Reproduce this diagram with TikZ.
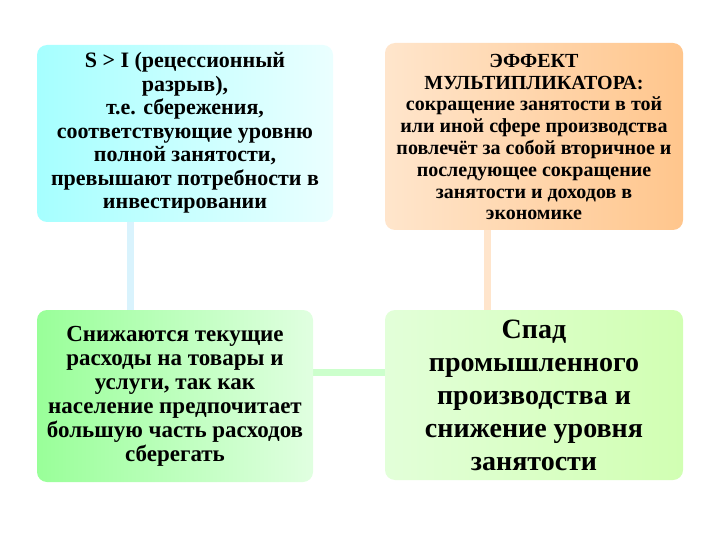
\documentclass[tikz,border=0pt]{standalone}
\usepackage{fontspec}
\setmainfont{Liberation Serif}
\newfontfamily\rs{Liberation Serif}
\begin{document}
\begin{tikzpicture}[x=1pt,y=-1pt,
 box/.style={rounded corners=10pt,align=center},
 bar/.style={line width=7pt}]
\useasboundingbox (0,0) rectangle (720,540);
\fill[white] (0,0) rectangle (720,540);
% connectors
\draw[bar,color=cyan!15] (130,222) -- (130,310);
\draw[bar,color=orange!20] (487,230) -- (487,310);
\draw[bar,color=green!20] (313,372) -- (385,372);
% boxes
\shade[rounded corners=10pt,left color=cyan!35,right color=cyan!8] (37,45) rectangle (333,222);
\shade[rounded corners=10pt,left color=orange!20,right color=orange!45] (385,43) rectangle (683,230);
\shade[rounded corners=10pt,left color=green!40,right color=green!12] (37,310) rectangle (313,482);
\shade[rounded corners=10pt,left color=yellow!25!green!15,right color=yellow!40!green!30] (385,310) rectangle (683,480);
\node[box,font=\rs\fontsize{22}{23.5}\selectfont\bfseries] (tl) at (185,133) {S > I (рецессионный\\разрыв),\\т.е. сбережения,\\соответствующие уровню\\полной занятости,\\превышают потребности в\\инвестировании};
\node[box,font=\rs\fontsize{20}{21.8}\selectfont\bfseries] (tr) at (534,137) {ЭФФЕКТ\\МУЛЬТИПЛИКАТОРА:\\сокращение занятости в той\\или иной сфере производства\\повлечёт за собой вторичное и\\последующее сокращение\\занятости и доходов в\\экономике};
\node[box,font=\rs\fontsize{23}{24}\selectfont\bfseries] (bl) at (175,396) {Снижаются текущие\\расходы на товары и\\услуги, так как\\население предпочитает\\большую часть расходов\\сберегать};
\node[box,font=\rs\fontsize{28}{33}\selectfont\bfseries] (br) at (534,395) {Спад\\промышленного\\производства и\\снижение уровня\\занятости};
\end{tikzpicture}
\end{document}
